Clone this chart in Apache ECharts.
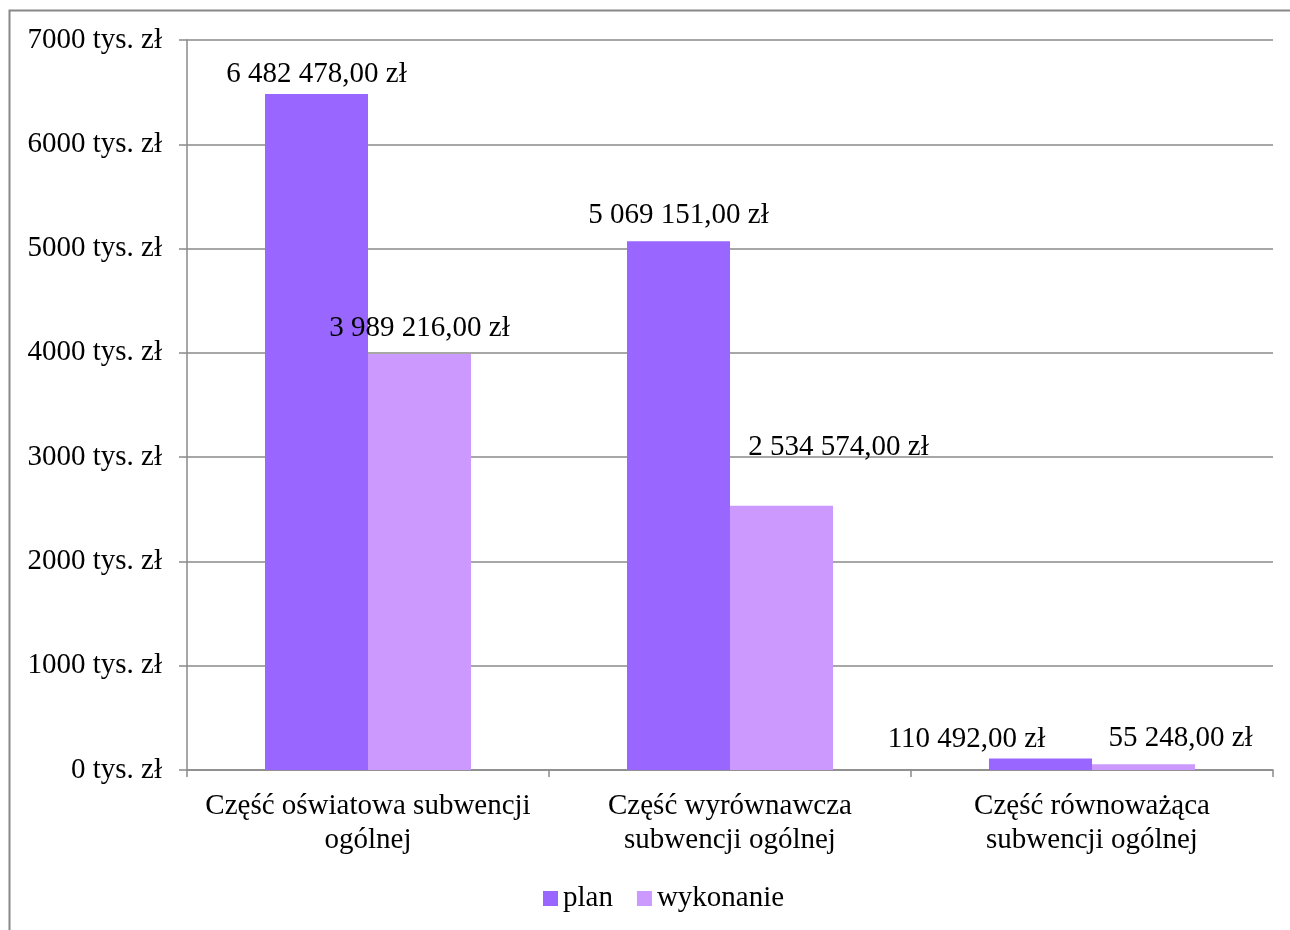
<!DOCTYPE html>
<html>
<head>
<meta charset="utf-8">
<script src="https://cdn.jsdelivr.net/npm/echarts@6/dist/echarts.min.js"></script>
<style>
  html, body { margin: 0; padding: 0; background: #fff; overflow: hidden; }
  #chart { width: 1290px; height: 930px; }
</style>
</head>
<body>
<div id="chart"></div>
<script>
// Subwencja ogólna: plan vs wykonanie (kwoty w zł)
const categories = [
  'Część oświatowa subwencji\nogólnej',
  'Część wyrównawcza\nsubwencji ogólnej',
  'Część równoważąca\nsubwencji ogólnej'
];
const seriesNames = ['plan', 'wykonanie'];
const planValues = [6482478.00, 5069151.00, 110492.00];
const wykonanieValues = [3989216.00, 2534574.00, 55248.00];
const yTickValues = [0, 1000000, 2000000, 3000000, 4000000, 5000000, 6000000, 7000000];

// label nudges (px) for readability
const planLabelOffsets = [[0, 0], [0, -6], [-74, 0]];
const wykLabelOffsets = [[0, -6], [57, -39], [37, -6]];

const FONT = '"Liberation Serif", "Times New Roman", serif';
const FS = 29;
const GRID_COLOR = '#8a8a8a';

function formatZl(v) {
  const parts = v.toFixed(2).split('.');
  const intPart = parts[0].replace(/\B(?=(\d{3})+(?!\d))/g, ' ');
  return intPart + ',' + parts[1] + ' zł';
}

function buildData(values, offsets) {
  return values.map((v, i) => ({
    value: v,
    label: { offset: offsets[i] }
  }));
}

const chart = echarts.init(document.getElementById('chart'), null, { renderer: 'canvas' });

const labelStyle = {
  show: true,
  position: 'top',
  distance: 5,
  fontFamily: FONT,
  fontSize: FS,
  color: '#000',
  formatter: p => formatZl(p.value)
};

chart.setOption({
  animation: false,
  backgroundColor: '#fff',
  graphic: [
    {
      type: 'polyline',
      shape: { points: [[9.5, 940], [9.5, 10.5], [1300, 10.5]] },
      style: { fill: 'none', stroke: '#888', lineWidth: 2 },
      silent: true,
      z: -1
    }
  ],
  grid: { left: 187, right: 17, top: 40, bottom: 160, containLabel: false },
  legend: {
    data: seriesNames,
    bottom: 12,
    left: 538,
    icon: 'rect',
    itemWidth: 15,
    itemHeight: 15,
    itemGap: 24,
    textStyle: { fontFamily: FONT, fontSize: FS, color: '#000' }
  },
  xAxis: {
    type: 'category',
    data: categories,
    axisLine: { lineStyle: { color: GRID_COLOR, width: 1.5 } },
    axisTick: { show: true, length: 7, alignWithLabel: false, lineStyle: { color: GRID_COLOR, width: 1.5 } },
    axisLabel: {
      fontFamily: FONT, fontSize: FS, color: '#000',
      lineHeight: 34, margin: 19, interval: 0
    }
  },
  yAxis: {
    type: 'value',
    min: 0,
    max: 7000000,
    interval: 1000000,
    axisLine: { show: true, lineStyle: { color: GRID_COLOR, width: 1.5 } },
    axisTick: { show: true, length: 8, lineStyle: { color: GRID_COLOR, width: 1.5 } },
    splitLine: { show: true, lineStyle: { color: GRID_COLOR, width: 1.5 } },
    axisLabel: {
      fontFamily: FONT, fontSize: FS, color: '#000', margin: 25,
      formatter: v => (yTickValues.includes(v) ? (v / 1000) + ' tys. zł' : '')
    }
  },
  series: [
    {
      name: seriesNames[0],
      type: 'bar',
      barWidth: 103,
      barGap: '0%',
      itemStyle: { color: '#9966FF' },
      label: labelStyle,
      data: buildData(planValues, planLabelOffsets)
    },
    {
      name: seriesNames[1],
      type: 'bar',
      barWidth: 103,
      barGap: '0%',
      itemStyle: { color: '#CC99FF' },
      label: labelStyle,
      data: buildData(wykonanieValues, wykLabelOffsets)
    }
  ]
});
</script>
</body>
</html>
